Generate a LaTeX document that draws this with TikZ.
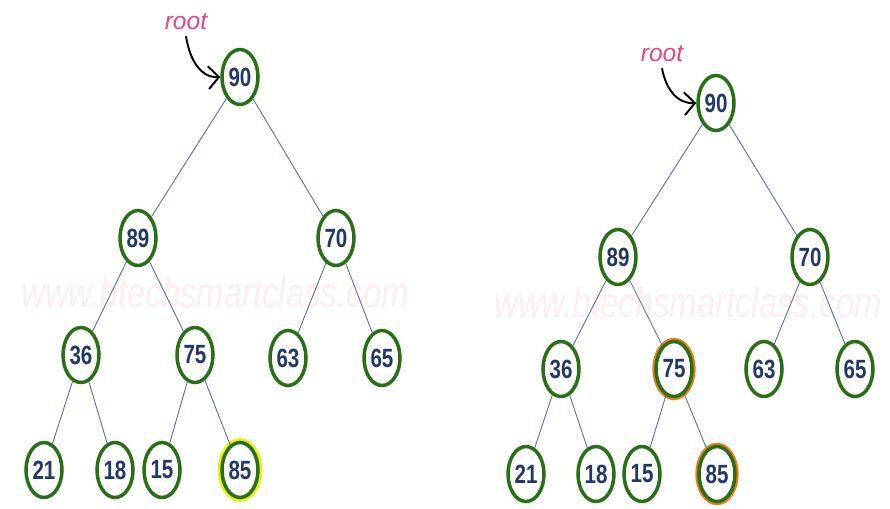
\documentclass[tikz,border=0pt]{standalone}
\usepackage{fontspec}
\setmainfont{Liberation Sans}
\newfontfamily\chiffres{Liberation Sans}[FakeStretch=0.78]
\usepackage{tikz}
\usetikzlibrary{arrows.meta, shapes.geometric}
\definecolor{vert}{RGB}{40,112,22}
\definecolor{marine}{RGB}{32,56,106}
\definecolor{ardoise}{RGB}{90,108,148}
\definecolor{rose}{RGB}{228,72,122}
\definecolor{filigrane}{RGB}{253,237,242}
\definecolor{jaune}{RGB}{238,238,20}
\definecolor{orangevif}{RGB}{242,122,22}

\begin{document}
\begin{tikzpicture}[x=0.02cm, y=-0.02cm,
  noeud/.style={ellipse, draw=vert, line width=2pt, fill=white,
    minimum width=0.72cm, minimum height=1.1cm, inner sep=0pt,
    font=\chiffres\bfseries\fontsize{15}{15}\selectfont, text=marine},
  jauni/.style={preaction={draw=jaune, line width=5pt}},
  orange/.style={preaction={draw=orangevif, line width=4.2pt}},
  arete/.style={draw=ardoise, line width=0.5pt},
  racine/.style={font=\itshape\fontsize{14}{14}\selectfont, text=rose},
  fleche/.style={-{Straight Barb[length=6pt, width=13pt]}, line width=1.1pt, black},
  marque/.style={font=\chiffres\itshape\fontsize{24}{24}\selectfont, text=filigrane}]

  \useasboundingbox (0,0) rectangle (890,508);

  % filigrane
  \node[marque] (wmL) at (215,292) {www.btechsmartclass.com};
  \node[marque] (wmR) at (688,302) {www.btechsmartclass.com};

  % arbre de gauche
  \node[noeud] (a90) at (240,77) {90};
  \node[noeud] (a89) at (138,238) {89};
  \node[noeud] (a70) at (336,238) {70};
  \node[noeud] (a36) at (81,355) {36};
  \node[noeud] (a75) at (195,355) {75};
  \node[noeud] (a63) at (288,358) {63};
  \node[noeud] (a65) at (382,358) {65};
  \node[noeud] (a21) at (44,470) {21};
  \node[noeud] (a18) at (115,470) {18};
  \node[noeud] (a15) at (162,470) {15};
  \node[noeud, jauni] (a85) at (240,470) {85};
  \node[racine] (rootL) at (186,22) {root};

  \draw[arete] (a90) -- (a89);
  \draw[arete] (a90) -- (a70);
  \draw[arete] (a89) -- (a36);
  \draw[arete] (a89) -- (a75);
  \draw[arete] (a70) -- (a63);
  \draw[arete] (a70) -- (a65);
  \draw[arete] (a36) -- (a21);
  \draw[arete] (a36) -- (a18);
  \draw[arete] (a75) -- (a15);
  \draw[arete] (a75) -- (a85);
  \draw[fleche] (rootL.south) .. controls (190,62) and (202,78) .. (a90.west);

  % arbre de droite
  \node[noeud] (b90) at (716,103) {90};
  \node[noeud] (b89) at (618,257) {89};
  \node[noeud] (b70) at (810,257) {70};
  \node[noeud] (b36) at (561,369) {36};
  \node[noeud, orange] (b75) at (674,369) {75};
  \node[noeud] (b63) at (764,369) {63};
  \node[noeud] (b65) at (855,369) {65};
  \node[noeud] (b21) at (526,474) {21};
  \node[noeud] (b18) at (596,474) {18};
  \node[noeud] (b15) at (642,474) {15};
  \node[noeud, orange] (b85) at (717,474) {85};
  \node[racine] (rootR) at (662,54) {root};

  \draw[arete] (b90) -- (b89);
  \draw[arete] (b90) -- (b70);
  \draw[arete] (b89) -- (b36);
  \draw[arete] (b89) -- (b75);
  \draw[arete] (b70) -- (b63);
  \draw[arete] (b70) -- (b65);
  \draw[arete] (b36) -- (b21);
  \draw[arete] (b36) -- (b18);
  \draw[arete] (b75) -- (b15);
  \draw[arete] (b75) -- (b85);
  \draw[fleche] (rootR.south) .. controls (666,90) and (678,104) .. (b90.west);
\end{tikzpicture}
\end{document}
